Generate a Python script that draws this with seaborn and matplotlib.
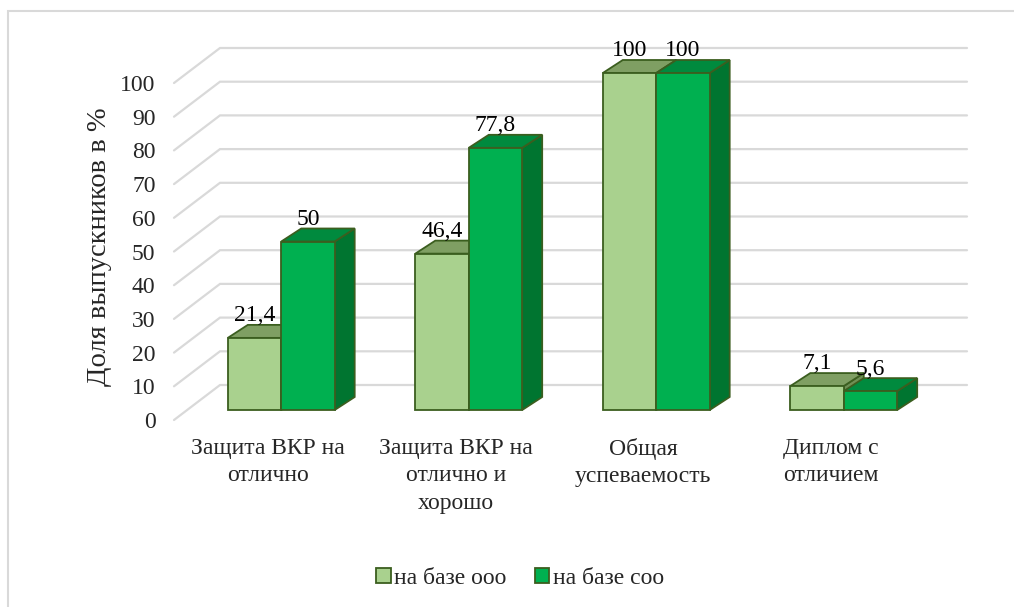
import numpy as np
import pandas as pd
import matplotlib
matplotlib.use("Agg")
from matplotlib import pyplot as plt
from matplotlib.patches import Polygon, Patch, Rectangle
from matplotlib.transforms import ScaledTranslation
import seaborn as sns

categories = ["Защита ВКР на\nотлично", "Защита ВКР на\nотлично и\nхорошо",
              "Общая\nуспеваемость", "Диплом с\nотличием"]
series_names = ["на базе ооо", "на базе соо"]
vals_ooo = [21.4, 46.4, 100, 7.1]
vals_coo = [50, 77.8, 100, 5.6]
yticks = [0, 10, 20, 30, 40, 50, 60, 70, 80, 90, 100]

front_col = {"на базе ооо": "#a9d18e", "на базе соо": "#00b050"}
top_col = {"на базе ооо": "#7f9f63", "на базе соо": "#008a3e"}
side_col = {"на базе ооо": "#6f8f55", "на базе соо": "#007530"}
edge = "#3b5e1f"

df = pd.DataFrame({
    "cat": categories * 2,
    "series": [series_names[0]] * 4 + [series_names[1]] * 4,
    "value": vals_ooo + vals_coo,
})

sns.set_theme(style="white")
plt.rcParams["font.family"] = ["Liberation Serif", "DejaVu Serif"]
fs = 17

W, H = 1014, 607
fig = plt.figure(figsize=(W / 100, H / 100), dpi=100)
# front plane of the bars in pixel coords
x_left, x_right = 187.5, 937.5
y_zero, y_top = 410, 73
ax = fig.add_axes([x_left / W, 1 - y_zero / H, (x_right - x_left) / W, (y_zero - y_top) / H])

sns.barplot(data=df, x="cat", y="value", hue="series", palette=front_col, saturation=1,
            width=0.57, gap=0, edgecolor=edge, linewidth=1.3, ax=ax, legend=False)
ax.set_xlim(-0.5, 3.5)
ax.set_ylim(0, 100)

px_x = 1.0 / 187.5        # category units per pixel
px_y = 100.0 / 337.0      # value units per pixel

# back wall + side wall gridlines
wf_x, wf_y = -0.5 - 13.5 * px_x, -10 * px_y
wb_x, wb_y = -0.5 + 32.5 * px_x, 25 * px_y
wb_end = -0.5 + (967 - x_left) * px_x
for v in yticks:
    ax.plot([wf_x, wb_x, wb_end], [v + wf_y, v + wb_y, v + wb_y], color="#d9d9d9",
            lw=1.6, zorder=0, clip_on=False, solid_joinstyle="miter")

# 3d faces of the bars
dx, dy = 20 * px_x, 13 * px_y
rects = [p for p in ax.patches if isinstance(p, Rectangle)]
# seaborn adds bars hue level by hue level
names = [series_names[i // len(categories)] for i in range(len(rects))]
order = sorted(range(len(rects)), key=lambda i: rects[i].get_x())
z = 2
for i in order:
    p, name = rects[i], names[i]
    x0, w, h = p.get_x(), p.get_width(), p.get_height()
    side = Polygon([(x0 + w, 0), (x0 + w + dx, dy), (x0 + w + dx, h + dy), (x0 + w, h)],
                   facecolor=side_col[name], edgecolor=edge, lw=1.3, zorder=z, clip_on=False)
    top = Polygon([(x0, h), (x0 + w, h), (x0 + w + dx, h + dy), (x0 + dx, h + dy)],
                  facecolor=top_col[name], edgecolor=edge, lw=1.3, zorder=z + 1, clip_on=False)
    ax.add_patch(side)
    ax.add_patch(top)
    p.set_zorder(z + 2)
    p.set_clip_on(False)
    z += 3
    lab = f"{h:g}".replace(".", ",")
    ax.annotate(lab, (x0 + w / 2, h + dy), xytext=(0, -1), textcoords="offset points",
                ha="center", va="bottom", fontsize=fs, color="black", zorder=50,
                annotation_clip=False)

for s in ax.spines.values():
    s.set_visible(False)
ax.set_yticks(yticks)
ax.set_yticklabels([str(v) for v in yticks], fontsize=fs)
ax.tick_params(axis="y", length=0, pad=23)
for t in ax.get_yticklabels():
    t.set_transform(t.get_transform() + ScaledTranslation(0, -0.10, fig.dpi_scale_trans))
ax.set_xticks(range(len(categories)))
ax.set_xticklabels(categories, fontsize=fs, linespacing=1.42, va="top")
ax.tick_params(axis="x", length=0, pad=20)
for t in ax.get_xticklabels():
    t.set_transform(t.get_transform() + ScaledTranslation(-0.13, 0, fig.dpi_scale_trans))
ax.set_xlabel("")
ax.set_ylabel("")
fig.text(100 / W, 1 - 247 / H, "Доля выпускников в %", rotation=90, fontsize=20.5,
         ha="center", va="center")
ax.grid(False)
ax.patch.set_alpha(0)

handles = [Patch(facecolor=front_col[n], edgecolor=edge, lw=1.3, label=n) for n in series_names]
fig.legend(handles=handles, loc="center", bbox_to_anchor=(520 / W, 1 - 578 / H), ncol=2,
           frameon=False, fontsize=fs, handlelength=0.6, handleheight=0.6,
           handletextpad=0.15, columnspacing=1.2)

# chart frame (top and left edges visible)
fig.add_artist(Rectangle((8 / W, -0.1), 1.2, 1 - 11 / H + 0.1, transform=fig.transFigure,
                         fill=False, edgecolor="#d9d9d9", lw=1.5))

fig.savefig("out.png", dpi=100)
